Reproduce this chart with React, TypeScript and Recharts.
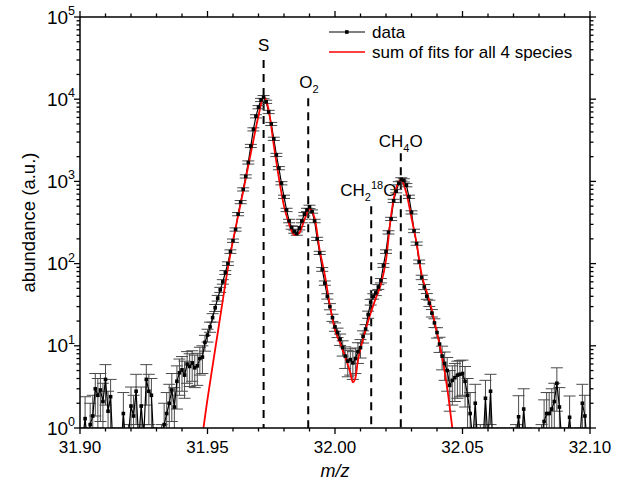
import { ErrorBar, Legend, Line, LineChart, ReferenceLine, XAxis, YAxis } from "recharts";

const FONT = "'Liberation Sans', Arial, Helvetica, sans-serif";

// measured spectrum, one bin per 0.001 u
const dataMz = [
  31.9, 31.901, 31.902, 31.903, 31.904, 31.905, 31.906, 31.907, 31.908, 31.909,
  31.91, 31.911, 31.912, 31.913, 31.914, 31.915, 31.916, 31.917, 31.918, 31.919,
  31.92, 31.921, 31.922, 31.923, 31.924, 31.925, 31.926, 31.927, 31.928, 31.929,
  31.93, 31.931, 31.932, 31.933, 31.934, 31.935, 31.936, 31.937, 31.938, 31.939,
  31.94, 31.941, 31.942, 31.943, 31.944, 31.945, 31.946, 31.947, 31.948, 31.949,
  31.95, 31.951, 31.952, 31.953, 31.954, 31.955, 31.956, 31.957, 31.958, 31.959,
  31.96, 31.961, 31.962, 31.963, 31.964, 31.965, 31.966, 31.967, 31.968, 31.969,
  31.97, 31.971, 31.972, 31.973, 31.974, 31.975, 31.976, 31.977, 31.978, 31.979,
  31.98, 31.981, 31.982, 31.983, 31.984, 31.985, 31.986, 31.987, 31.988, 31.989,
  31.99, 31.991, 31.992, 31.993, 31.994, 31.995, 31.996, 31.997, 31.998, 31.999,
  32.0, 32.001, 32.002, 32.003, 32.004, 32.005, 32.006, 32.007, 32.008, 32.009,
  32.01, 32.011, 32.012, 32.013, 32.014, 32.015, 32.016, 32.017, 32.018, 32.019,
  32.02, 32.021, 32.022, 32.023, 32.024, 32.025, 32.026, 32.027, 32.028, 32.029,
  32.03, 32.031, 32.032, 32.033, 32.034, 32.035, 32.036, 32.037, 32.038, 32.039,
  32.04, 32.041, 32.042, 32.043, 32.044, 32.045, 32.046, 32.047, 32.048, 32.049,
  32.05, 32.051, 32.052, 32.053, 32.054, 32.055, 32.056, 32.057, 32.058, 32.059,
  32.06, 32.061, 32.062, 32.063, 32.064, 32.065, 32.066, 32.067, 32.068, 32.069,
  32.07, 32.071, 32.072, 32.073, 32.074, 32.075, 32.076, 32.077, 32.078, 32.079,
  32.08, 32.081, 32.082, 32.083, 32.084, 32.085, 32.086, 32.087, 32.088, 32.089,
  32.09, 32.091, 32.092, 32.093, 32.094, 32.095, 32.096, 32.097, 32.098, 32.099,
  32.1,
];

const abundance = [
  0.6, 0.7, 1.3, 0.6, 1.1, 1.4, 3.0, 2.5, 2.9, 2.1,
  3.9, 1.6, 2.4, 0.5, 0.7, 0.4, 0.5, 1.5, 0.6, 0.8,
  1.85, 1.4, 2.8, 0.7, 1.85, 0.8, 3.9, 2.8, 2.5, 0.6,
  0.7, 0.5, 0.8, 1.1, 1.5, 2.0, 2.9, 1.8, 3.7, 4.7,
  5.1, 4.4, 6.0, 5.6, 6.2, 5.4, 5.7, 7.0, 7.3, 11,
  13.5, 17, 22, 29, 38, 48, 60, 78, 100, 140,
  190, 260, 400, 560, 800, 1150, 1700, 2700, 4300, 6200,
  8000, 9800, 10600, 9300, 7000, 5000, 3300, 2100, 1450, 950,
  650, 450, 330, 275, 245, 232, 270, 330, 400, 450,
  490, 430, 330, 200, 135, 85, 58, 40, 30, 22,
  17, 14.5, 12, 9.5, 7.5, 6.5, 6.8, 6.2, 7, 8.5,
  9.5, 13, 16, 24, 34, 40, 44, 52, 62, 95,
  140, 240, 350, 580, 760, 950, 1060, 1030, 900, 650,
  420, 250, 175, 105, 68, 52, 40, 33, 25, 19,
  14.5, 10.5, 7.5, 6.1, 5.0, 3.3, 3.8, 4.1, 4.4, 4.5,
  4.6, 3.7, 2.5, 1.5, 0.7, 2.0, 0.6, 0.8, 0.6, 2.3,
  0.7, 2.8, 0.5, 0.6, 0.5, 0.7, 0.5, 0.4, 0.6, 0.5,
  0.7, 0.8, 1.37, 0.6, 1.7, 0.7, 0.5, 0.6, 0.5, 0.4,
  0.6, 0.8, 1.2, 1.5, 1.5, 1.7, 2.1, 3.5, 1.8, 0.6,
  0.5, 0.7, 1.35, 0.6, 0.5, 0.6, 0.7, 2.0, 1.4, 0.6,
  0.5,
];

const abundanceErr = [
  0.3, 0.3, 1.1, 0.3, 0.9, 1.1, 1.6, 1.5, 1.7, 1.4,
  2.0, 1.2, 1.5, 0.3, 0.3, 0.3, 0.3, 1.2, 0.3, 0.3,
  1.3, 1.1, 1.7, 0.3, 1.3, 0.3, 2.0, 1.7, 1.5, 0.3,
  0.3, 0.3, 0.3, 0.9, 1.2, 1.4, 1.7, 1.3, 2.0, 2.2,
  2.3, 2.1, 2.5, 2.4, 2.5, 2.3, 2.4, 2.6, 2.7, 2.4,
  2.4, 2.4, 2.6, 2.8, 3.0, 3.4, 3.8, 4.2, 5.0, 7.0,
  9, 12, 18, 25, 36, 52, 75, 120, 190, 280,
  360, 440, 480, 420, 320, 220, 150, 95, 65, 43,
  30, 21, 16, 13, 11, 11, 13, 16, 19, 21,
  23, 20, 16, 9, 6, 4.5, 3.5, 3.0, 2.6, 2.2,
  2.0, 1.9, 1.9, 2.0, 2.2, 2.3, 2.4, 2.3, 2.4, 2.4,
  2.4, 2.2, 2.1, 2.4, 2.7, 3.0, 3.2, 3.5, 3.8, 5.0,
  7, 11, 16, 26, 34, 43, 48, 47, 41, 30,
  19, 12, 8, 5.5, 4.2, 3.7, 3.2, 2.9, 2.6, 2.3,
  2.1, 2.2, 2.4, 2.3, 2.2, 1.7, 1.9, 2.0, 2.1, 2.1,
  2.1, 1.9, 1.5, 1.2, 0.3, 1.4, 0.3, 0.3, 0.3, 1.5,
  0.3, 1.7, 0.3, 0.3, 0.3, 0.3, 0.3, 0.3, 0.3, 0.3,
  0.3, 0.3, 1.1, 0.3, 1.3, 0.3, 0.3, 0.3, 0.3, 0.3,
  0.3, 0.3, 1.0, 1.2, 1.2, 1.3, 1.4, 1.9, 1.3, 0.3,
  0.3, 0.3, 1.1, 0.3, 0.3, 0.3, 0.3, 1.4, 1.1, 0.3,
  0.3,
];

// sum of the four fitted peaks
const fitMz = [
  31.946, 31.948, 31.95, 31.952, 31.954, 31.956, 31.958, 31.96, 31.962, 31.964,
  31.966, 31.968, 31.97, 31.972, 31.974, 31.976, 31.978, 31.98, 31.982, 31.984,
  31.986, 31.988, 31.99, 31.992, 31.994, 31.996, 31.998, 32.0, 32.002, 32.004,
  32.006, 32.007, 32.008, 32.009, 32.01, 32.012, 32.014, 32.016, 32.018, 32.02,
  32.022, 32.024, 32.026, 32.028, 32.03, 32.032, 32.034, 32.036, 32.038, 32.04,
  32.042, 32.044, 32.046, 32.048,
];
const fitValue = [
  0.35, 0.82, 2.25, 5.7, 14.3, 36, 88, 190, 380, 760,
  1550, 3160, 6300, 10640, 7400, 2770, 1100, 500, 304, 223,
  236, 340, 462, 359, 146, 73, 31, 15.6, 10.8, 7.3,
  4.7, 3.6, 4.05, 6.7, 9.2, 15.6, 25, 38, 56, 110,
  390, 830, 1040, 720, 359, 178, 73, 45, 27, 14.3,
  7.3, 3.07, 1.0, 0.35,
];

const xTicks = [
  31.9, 31.91, 31.92, 31.93, 31.94, 31.95, 31.96, 31.97, 31.98, 31.99, 32.0,
  32.01, 32.02, 32.03, 32.04, 32.05, 32.06, 32.07, 32.08, 32.09, 32.1,
];
const xMajor = [31.9, 31.95, 32.0, 32.05, 32.1];
const yMajor = [1, 10, 100, 1000, 10000, 100000];
const yTicks = [
  1, 2, 3, 4, 5, 6, 7, 8, 9, 10, 20, 30, 40, 50, 60, 70, 80, 90,
  100, 200, 300, 400, 500, 600, 700, 800, 900, 1000, 2000, 3000, 4000, 5000,
  6000, 7000, 8000, 9000, 10000, 20000, 30000, 40000, 50000, 60000, 70000,
  80000, 90000, 100000,
];

// species positions and where each dashed marker starts
const speciesMz = [31.972, 31.9895, 32.0142, 32.0258];
const speciesTop = [30000, 10300, 500, 2200];

const dataRows = dataMz.map((mz, i) => ({ mz, abundance: abundance[i], err: abundanceErr[i] }));
const fitRows = fitMz.map((mz, i) => ({ mz, fit: fitValue[i] }));

// plot frame in px (margins are fixed below), used to clip the error bars
const PLOT = { left: 80, top: 17, width: 510, height: 411 };

const isMajorX = (v: number) => xMajor.some((m) => Math.abs(m - v) < 1e-9);

function BottomTick(props: any) {
  const { x, y, payload } = props;
  const major = isMajorX(payload.value);
  return (
    <g>
      <line x1={x} x2={x} y1={y} y2={y + (major ? 6 : 3.5)} stroke="#000" strokeWidth={1.3} />
      {major && (
        <text x={x} y={y + 25} textAnchor="middle" fontSize={17} fontFamily={FONT} fill="#000">
          {payload.value.toFixed(2)}
        </text>
      )}
    </g>
  );
}

function TopTick(props: any) {
  const { x, y, payload } = props;
  const major = isMajorX(payload.value);
  return <line x1={x} x2={x} y1={y} y2={y - (major ? 6 : 3.5)} stroke="#000" strokeWidth={1.3} />;
}

function LeftTick(props: any) {
  const { x, y, payload } = props;
  const exp = yMajor.indexOf(payload.value);
  const major = exp >= 0;
  return (
    <g>
      <line x1={x} x2={x - (major ? 6 : 3.5)} y1={y} y2={y} stroke="#000" strokeWidth={1.3} />
      {major && (
        <text x={x - 5} y={y + 6.5} textAnchor="end" fontSize={19} fontFamily={FONT} fill="#000">
          10
          <tspan dy={-8.5} fontSize={12.5}>
            {exp}
          </tspan>
        </text>
      )}
    </g>
  );
}

function RightTick(props: any) {
  const { x, y, payload } = props;
  const major = yMajor.includes(payload.value);
  return <line x1={x} x2={x + (major ? 6 : 3.5)} y1={y} y2={y} stroke="#000" strokeWidth={1.3} />;
}

function SquareDot(props: any) {
  const { cx, cy, key } = props;
  if (!Number.isFinite(cx) || !Number.isFinite(cy)) return <g key={key} />;
  return <rect key={key} x={cx - 1.8} y={cy - 1.8} width={3.6} height={3.6} fill="#000" />;
}

const labelStyle = { fontSize: 17, fontFamily: FONT, fill: "#000" };

const labelS = ({ viewBox }: any) => (
  <text x={viewBox.x} y={viewBox.y - 9} textAnchor="middle" {...labelStyle}>
    S
  </text>
);
const labelO2 = ({ viewBox }: any) => (
  <text x={viewBox.x - 9} y={viewBox.y - 10} {...labelStyle}>
    O
    <tspan dy={5} fontSize={11}>
      2
    </tspan>
  </text>
);
const labelCH2O18 = ({ viewBox }: any) => (
  <text x={viewBox.x - 31} y={viewBox.y - 10} {...labelStyle}>
    CH
    <tspan dy={5} fontSize={11}>
      2
    </tspan>
    <tspan dy={-12} fontSize={11}>
      18
    </tspan>
    <tspan dy={7}>O</tspan>
  </text>
);
const labelCH4O = ({ viewBox }: any) => (
  <text x={viewBox.x - 22} y={viewBox.y - 6} {...labelStyle}>
    CH
    <tspan dy={5} fontSize={11}>
      4
    </tspan>
    <tspan dy={-5}>O</tspan>
  </text>
);
const speciesLabels = [labelS, labelO2, labelCH2O18, labelCH4O];

function LegendBox() {
  return (
    <svg width={270} height={44} style={{ display: "block" }}>
      <line x1={1} x2={37} y1={12} y2={12} stroke="#000" strokeWidth={1.2} />
      <rect x={17} y={10.2} width={3.6} height={3.6} fill="#000" />
      <text x={44} y={18} {...labelStyle}>
        data
      </text>
      <line x1={1} x2={37} y1={32} y2={32} stroke="#ff0000" strokeWidth={1.6} />
      <text x={44} y={38} {...labelStyle}>
        sum of fits for all 4 species
      </text>
    </svg>
  );
}

export default function App() {
  return (
    <div style={{ position: "absolute", left: 0, top: 0, background: "#fff" }}>
      <style>{`.recharts-errorBars, .recharts-errorBar { clip-path: url(#plotClip); }`}</style>
      <svg width={0} height={0} style={{ position: "absolute" }}>
        <defs>
          <clipPath id="plotClip" clipPathUnits="userSpaceOnUse">
            <rect x={PLOT.left} y={PLOT.top} width={PLOT.width} height={PLOT.height} />
          </clipPath>
        </defs>
      </svg>
      <LineChart width={624} height={491} margin={{ top: 0, right: 0, bottom: 0, left: 0 }}>
        <XAxis
          type="number"
          dataKey="mz"
          domain={[31.9, 32.1]}
          allowDataOverflow
          ticks={xTicks}
          interval={0}
          height={63}
          tickSize={0}
          tickMargin={0}
          tickLine={false}
          tick={<BottomTick />}
          axisLine={{ stroke: "#000", strokeWidth: 1.5 }}
          label={({ viewBox }: any) => (
            <text
              x={viewBox.x + viewBox.width / 2}
              y={viewBox.y + 49}
              textAnchor="middle"
              fontSize={18}
              fontStyle="italic"
              fontFamily={FONT}
              fill="#000"
            >
              m/z
            </text>
          )}
        />
        <XAxis
          xAxisId="top"
          orientation="top"
          type="number"
          dataKey="mz"
          domain={[31.9, 32.1]}
          allowDataOverflow
          ticks={xTicks}
          interval={0}
          height={17}
          tickSize={0}
          tickMargin={0}
          tickLine={false}
          tick={<TopTick />}
          axisLine={{ stroke: "#000", strokeWidth: 1.5 }}
        />
        <YAxis
          type="number"
          scale="log"
          domain={[1, 100000]}
          allowDataOverflow
          ticks={yTicks}
          interval={0}
          width={80}
          tickSize={0}
          tickMargin={0}
          tickLine={false}
          tick={<LeftTick />}
          axisLine={{ stroke: "#000", strokeWidth: 1.5 }}
          label={({ viewBox }: any) => (
            <text
              x={35}
              y={viewBox.y + viewBox.height / 2}
              transform={`rotate(-90, 35, ${viewBox.y + viewBox.height / 2})`}
              textAnchor="middle"
              fontSize={18.5}
              fontFamily={FONT}
              fill="#000"
            >
              abundance (a.u.)
            </text>
          )}
        />
        <YAxis
          yAxisId="right"
          orientation="right"
          type="number"
          scale="log"
          domain={[1, 100000]}
          allowDataOverflow
          ticks={yTicks}
          interval={0}
          width={34}
          tickSize={0}
          tickMargin={0}
          tickLine={false}
          tick={<RightTick />}
          axisLine={{ stroke: "#000", strokeWidth: 1.5 }}
        />

        {speciesMz.map((mz, i) => (
          <ReferenceLine
            key={mz}
            segment={[
              { x: mz, y: speciesTop[i] },
              { x: mz, y: 1 },
            ]}
            stroke="#000"
            strokeWidth={2}
            strokeDasharray="8 6"
            label={speciesLabels[i]}
          />
        ))}

        <Line
          data={dataRows}
          dataKey="abundance"
          name="data"
          type="linear"
          stroke="#000"
          strokeWidth={1.2}
          dot={SquareDot}
          activeDot={false}
          isAnimationActive={false}
        >
          <ErrorBar dataKey="err" width={6} stroke="#4a4a4a" strokeWidth={1} direction="y" />
        </Line>
        <Line
          data={fitRows}
          dataKey="fit"
          name="sum of fits for all 4 species"
          type="monotone"
          stroke="#ff0000"
          strokeWidth={1.8}
          dot={false}
          activeDot={false}
          isAnimationActive={false}
        />

        <Legend
          layout="horizontal"
          verticalAlign="middle"
          align="center"
          wrapperStyle={{ top: 20, left: 328, width: 270, height: 44 }}
          content={() => <LegendBox />}
        />
      </LineChart>
    </div>
  );
}
